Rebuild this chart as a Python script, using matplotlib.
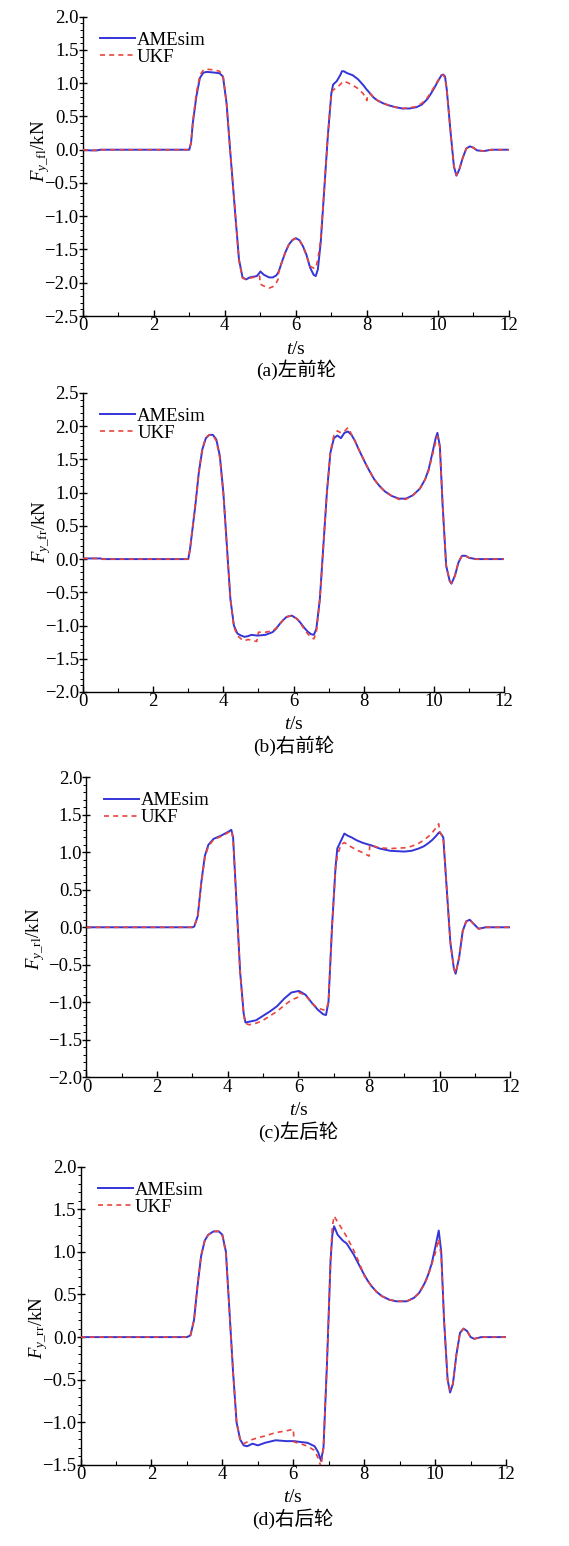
"""
Gaya lateral ban: AMEsim vs UKF (empat roda)
"""

import matplotlib
matplotlib.use('Agg')
import matplotlib.pyplot as plt
from matplotlib.ticker import MultipleLocator, FuncFormatter

plt.rcParams['font.family'] = ['Liberation Serif', 'Noto Sans CJK SC']
plt.rcParams['mathtext.fontset'] = 'custom'
plt.rcParams['mathtext.rm'] = 'Liberation Serif'
plt.rcParams['mathtext.it'] = 'Liberation Serif:italic'

BLUE = '#3434d8'
RED = '#e8453c'
FS = 13.5

# ---------------- (a) 左前轮 ----------------
T_A = [0, 0.2, 0.4, 0.5, 3.0, 3.05, 3.1, 3.2, 3.3, 3.4, 3.5, 3.7, 3.85, 3.95, 4.05, 4.15, 4.3,
       4.4, 4.5, 4.6, 4.7, 4.9, 4.98, 5.0, 5.1, 5.25, 5.35, 5.45, 5.5, 5.52, 5.6, 5.7, 5.8, 5.9,
       6.0, 6.1, 6.2, 6.3, 6.4, 6.5, 6.56, 6.62, 6.7, 6.8, 6.9, 7.0, 7.05, 7.15, 7.25, 7.3, 7.35,
       7.45, 7.6, 7.75, 7.9, 8.0, 8.02, 8.1, 8.2, 8.3, 8.45, 8.6, 8.8, 9.0, 9.2, 9.4, 9.55, 9.7,
       9.8, 9.9, 10.0, 10.1, 10.15, 10.2, 10.25, 10.35, 10.45, 10.52, 10.6, 10.7, 10.8, 10.9,
       11.0, 11.1, 11.3, 11.5, 12]
AME_A = [0, -0.01, -0.01, 0, 0, 0.1, 0.4, 0.8, 1.08, 1.16, 1.17, 1.16, 1.15, 1.1, 0.7, 0.0, -1.0,
         -1.65, -1.92, -1.95, -1.92, -1.9, -1.85, -1.83, -1.88, -1.92, -1.92, -1.89, -1.85, -1.83,
         -1.7, -1.55, -1.43, -1.36, -1.33, -1.36, -1.45, -1.58, -1.77, -1.88, -1.9, -1.8, -1.4,
         -0.6, 0.2, 0.85, 0.98, 1.03, 1.12, 1.18, 1.18, 1.15, 1.12, 1.06, 0.97, 0.9, 0.89, 0.84,
         0.78, 0.74, 0.7, 0.67, 0.64, 0.62, 0.62, 0.64, 0.68, 0.76, 0.84, 0.93, 1.03, 1.12, 1.13,
         1.1, 0.9, 0.3, -0.25, -0.39, -0.3, -0.12, 0.02, 0.05, 0.03, -0.01, -0.02, 0, 0]
UKF_A = [0, -0.01, -0.01, 0, 0, 0.1, 0.42, 0.85, 1.12, 1.2, 1.21, 1.2, 1.18, 1.12, 0.7, 0.0, -1.0,
         -1.67, -1.93, -1.95, -1.93, -1.91, -1.9, -2.02, -2.05, -2.08, -2.06, -2.0, -1.95, -1.82,
         -1.7, -1.55, -1.43, -1.36, -1.33, -1.36, -1.45, -1.6, -1.75, -1.78, -1.78, -1.65, -1.35,
         -0.6, 0.2, 0.85, 0.9, 0.93, 0.98, 1.01, 1.03, 1.01, 0.97, 0.92, 0.84, 0.74, 0.82, 0.84,
         0.78, 0.74, 0.7, 0.67, 0.64, 0.62, 0.63, 0.65, 0.7, 0.78, 0.86, 0.95, 1.04, 1.12, 1.12,
         1.08, 0.9, 0.3, -0.25, -0.38, -0.3, -0.12, 0.02, 0.05, 0.03, -0.01, -0.02, 0, 0]

# ---------------- (b) 右前轮 ----------------
T_B = [0, 0.5, 0.55, 3.0, 3.05, 3.2, 3.3, 3.4, 3.5, 3.6, 3.7, 3.8, 3.9, 4.0, 4.1, 4.2, 4.3, 4.4,
       4.5, 4.6, 4.7, 4.8, 4.95, 5.0, 5.2, 5.4, 5.5, 5.6, 5.7, 5.8, 5.95, 6.1, 6.2, 6.3, 6.4, 6.5,
       6.58, 6.65, 6.75, 6.85, 6.95, 7.05, 7.15, 7.25, 7.35, 7.45, 7.55, 7.65, 7.75, 7.85, 7.95,
       8.05, 8.15, 8.3, 8.45, 8.6, 8.8, 9.0, 9.2, 9.4, 9.6, 9.75, 9.85, 9.95, 10.05, 10.1, 10.17,
       10.25, 10.35, 10.45, 10.5, 10.6, 10.7, 10.8, 10.9, 11.0, 11.2, 12]
AME_B = [0.01, 0.01, 0, 0, 0.15, 0.8, 1.3, 1.65, 1.82, 1.87, 1.87, 1.8, 1.55, 1.0, 0.2, -0.6, -1.0,
         -1.12, -1.15, -1.17, -1.16, -1.14, -1.15, -1.15, -1.14, -1.1, -1.05, -0.98, -0.92, -0.87,
         -0.85, -0.9, -0.96, -1.03, -1.09, -1.13, -1.14, -1.05, -0.6, 0.2, 1.0, 1.6, 1.82, 1.86,
         1.82, 1.9, 1.92, 1.87, 1.78, 1.66, 1.55, 1.44, 1.34, 1.2, 1.1, 1.02, 0.95, 0.91, 0.91,
         0.96, 1.06, 1.2, 1.35, 1.58, 1.82, 1.9, 1.7, 0.8, -0.1, -0.33, -0.37, -0.25, -0.05, 0.05,
         0.05, 0.02, 0, 0]
UKF_B = [0.01, 0.01, 0, 0, 0.15, 0.82, 1.32, 1.66, 1.83, 1.87, 1.86, 1.78, 1.52, 0.98, 0.18, -0.6,
         -1.02, -1.15, -1.2, -1.23, -1.21, -1.22, -1.24, -1.1, -1.1, -1.08, -1.04, -0.98, -0.92,
         -0.87, -0.85, -0.9, -0.97, -1.05, -1.12, -1.18, -1.2, -1.1, -0.6, 0.2, 1.0, 1.62, 1.86,
         1.93, 1.9, 1.92, 1.98, 1.88, 1.78, 1.66, 1.55, 1.44, 1.34, 1.2, 1.1, 1.02, 0.95, 0.9, 0.9,
         0.96, 1.06, 1.2, 1.33, 1.55, 1.76, 1.85, 1.68, 0.8, -0.1, -0.33, -0.36, -0.25, -0.04,
         0.05, 0.05, 0.02, 0, 0]

# ---------------- (c) 左后轮 ----------------
T_C = [0, 3.0, 3.05, 3.15, 3.25, 3.35, 3.45, 3.6, 3.8, 4.0, 4.1, 4.15, 4.25, 4.35, 4.45, 4.5, 4.6,
       4.8, 5.0, 5.2, 5.4, 5.6, 5.8, 6.0, 6.02, 6.2, 6.4, 6.55, 6.7, 6.78, 6.85, 6.95, 7.05, 7.1,
       7.2, 7.3, 7.4, 7.5, 7.65, 7.8, 8.0, 8.02, 8.3, 8.6, 9.0, 9.2, 9.4, 9.55, 9.7, 9.8, 9.9,
       9.97, 10.0, 10.1, 10.2, 10.3, 10.4, 10.45, 10.55, 10.65, 10.75, 10.85, 10.95, 11.1, 11.3, 12]
AME_C = [0, 0, 0.01, 0.15, 0.6, 0.95, 1.1, 1.18, 1.22, 1.27, 1.3, 1.2, 0.3, -0.6, -1.15, -1.27,
         -1.26, -1.24, -1.18, -1.12, -1.05, -0.95, -0.87, -0.85, -0.85, -0.9, -1.02, -1.1, -1.16,
         -1.17, -1.0, 0.0, 0.8, 1.05, 1.15, 1.25, 1.22, 1.2, 1.16, 1.13, 1.1, 1.1, 1.05, 1.02,
         1.01, 1.02, 1.05, 1.08, 1.13, 1.17, 1.22, 1.26, 1.27, 1.2, 0.5, -0.2, -0.55, -0.62, -0.4,
         -0.05, 0.08, 0.1, 0.05, -0.02, 0, 0]
UKF_C = [0, 0, 0.01, 0.14, 0.58, 0.93, 1.08, 1.17, 1.21, 1.26, 1.29, 1.18, 0.3, -0.6, -1.17, -1.28,
         -1.3, -1.28, -1.24, -1.18, -1.12, -1.04, -0.97, -0.93, -0.87, -0.91, -1.02, -1.08, -1.1,
         -1.1, -1.0, 0.0, 0.78, 0.95, 1.1, 1.13, 1.1, 1.07, 1.03, 1.0, 0.95, 1.1, 1.06, 1.05,
         1.06, 1.08, 1.12, 1.16, 1.22, 1.27, 1.33, 1.38, 1.27, 1.2, 0.5, -0.2, -0.55, -0.61, -0.4,
         -0.05, 0.08, 0.1, 0.05, -0.02, 0, 0]

# ---------------- (d) 右后轮 ----------------
T_D = [0, 3.0, 3.1, 3.2, 3.3, 3.4, 3.5, 3.6, 3.75, 3.9, 4.0, 4.1, 4.2, 4.3, 4.4, 4.5, 4.6, 4.7,
       4.85, 5.0, 5.2, 5.5, 5.8, 6.0, 6.02, 6.2, 6.4, 6.6, 6.7, 6.78, 6.85, 6.95, 7.05, 7.1, 7.15,
       7.25, 7.4, 7.5, 7.7, 7.85, 8.0, 8.1, 8.2, 8.35, 8.5, 8.7, 8.9, 9.2, 9.4, 9.55, 9.7, 9.8,
       9.9, 10.0, 10.1, 10.17, 10.25, 10.35, 10.42, 10.5, 10.6, 10.7, 10.8, 10.9, 11.0, 11.1,
       11.3, 12]
AME_D = [0, 0, 0.02, 0.2, 0.6, 0.95, 1.13, 1.2, 1.24, 1.24, 1.2, 1.0, 0.3, -0.4, -1.0, -1.2,
         -1.27, -1.28, -1.25, -1.27, -1.24, -1.21, -1.22, -1.22, -1.22, -1.23, -1.24, -1.28, -1.35,
         -1.45, -1.3, -0.3, 0.9, 1.2, 1.3, 1.2, 1.13, 1.1, 0.97, 0.85, 0.73, 0.66, 0.6, 0.53,
         0.48, 0.44, 0.42, 0.42, 0.46, 0.52, 0.63, 0.73, 0.86, 1.05, 1.25, 1.0, 0.2, -0.5, -0.65,
         -0.55, -0.2, 0.05, 0.1, 0.07, 0.0, -0.02, 0, 0]
UKF_D = [0, 0, 0.02, 0.2, 0.62, 0.96, 1.13, 1.2, 1.24, 1.24, 1.19, 0.98, 0.3, -0.4, -1.0, -1.2,
         -1.25, -1.23, -1.2, -1.18, -1.16, -1.12, -1.1, -1.08, -1.23, -1.25, -1.28, -1.33, -1.42,
         -1.52, -1.3, -0.3, 0.9, 1.3, 1.42, 1.35, 1.25, 1.18, 1.02, 0.88, 0.72, 0.66, 0.6, 0.53,
         0.48, 0.44, 0.42, 0.42, 0.46, 0.52, 0.62, 0.72, 0.85, 0.98, 1.15, 0.95, 0.2, -0.5, -0.62,
         -0.55, -0.2, 0.05, 0.1, 0.07, 0.0, -0.02, 0, 0]

PANELS = [
    dict(rect=[0.1453, 0.7956, 0.7492, 0.1936], ylim=(-2.5, 2.0), sub='fl', lx=-0.072, ly=0.55,
         cap='(a)左前轮', t=T_A, ame=AME_A, ukf=UKF_A),
    dict(rect=[0.1459, 0.5524, 0.7400, 0.1934], ylim=(-2.0, 2.5), sub='fr', lx=-0.072, ly=0.535,
         cap='(b)右前轮', t=T_B, ame=AME_B, ukf=UKF_B),
    dict(rect=[0.1520, 0.3032, 0.7450, 0.1940], ylim=(-2.0, 2.0), sub='rl', lx=-0.092, ly=0.46,
         cap='(c)左后轮', t=T_C, ame=AME_C, ukf=UKF_C),
    dict(rect=[0.1415, 0.0524, 0.7480, 0.1930], ylim=(-1.5, 2.0), sub='rr', lx=-0.072, ly=0.46,
         cap='(d)右后轮', t=T_D, ame=AME_D, ukf=UKF_D),
]

fmt = FuncFormatter(lambda v, p: f'{v:.1f}'.replace('-', '\u2212'))

fig = plt.figure(figsize=(5.69, 15.46), dpi=100)

for p in PANELS:
    ax = fig.add_axes(p['rect'])
    ax.plot(p['t'], p['ame'], color=BLUE, lw=1.4, label='AMEsim', zorder=2)
    ax.plot(p['t'], p['ukf'], color=RED, lw=1.2, dashes=(3, 2.5), label='UKF', zorder=3)

    ax.set_xlim(0, 12)
    ax.set_ylim(*p['ylim'])
    ax.spines['top'].set_visible(False)
    ax.spines['right'].set_visible(False)
    ax.spines['left'].set_linewidth(1.0)
    ax.spines['bottom'].set_linewidth(1.0)

    ax.xaxis.set_major_locator(MultipleLocator(2))
    ax.xaxis.set_minor_locator(MultipleLocator(1))
    ax.yaxis.set_major_locator(MultipleLocator(0.5))
    ax.yaxis.set_minor_locator(MultipleLocator(0.1))
    ax.yaxis.set_major_formatter(fmt)
    ax.tick_params(axis='x', which='major', direction='in', length=4, width=1, pad=1, labelsize=FS)
    ax.tick_params(axis='x', which='minor', direction='in', length=3, width=0.8)
    ax.tick_params(axis='y', which='major', direction='inout', length=6, width=1, pad=0, labelsize=FS)
    ax.tick_params(axis='y', which='minor', direction='out', length=2.5, width=0.7)

    ax.set_ylabel(r'$F_{y\_\mathrm{' + p['sub'] + r'}}$/kN', fontsize=FS)
    ax.yaxis.set_label_coords(p['lx'], p['ly'])

    ax.annotate('$t$/s', xy=(0.5, 0), xycoords='axes fraction', xytext=(0, -33),
                textcoords='offset pixels', ha='center', va='center', fontsize=14)
    ax.annotate(p['cap'], xy=(0.5, 0), xycoords='axes fraction', xytext=(0, -54),
                textcoords='offset pixels', ha='center', va='center', fontsize=14)

    ax.legend(loc='upper left', bbox_to_anchor=(0.032, 0.963), frameon=False, fontsize=FS,
              handlelength=1.87, handletextpad=0.1, labelspacing=0.0, borderpad=0.2,
              borderaxespad=0)

fig.savefig('out.png', dpi=100)
